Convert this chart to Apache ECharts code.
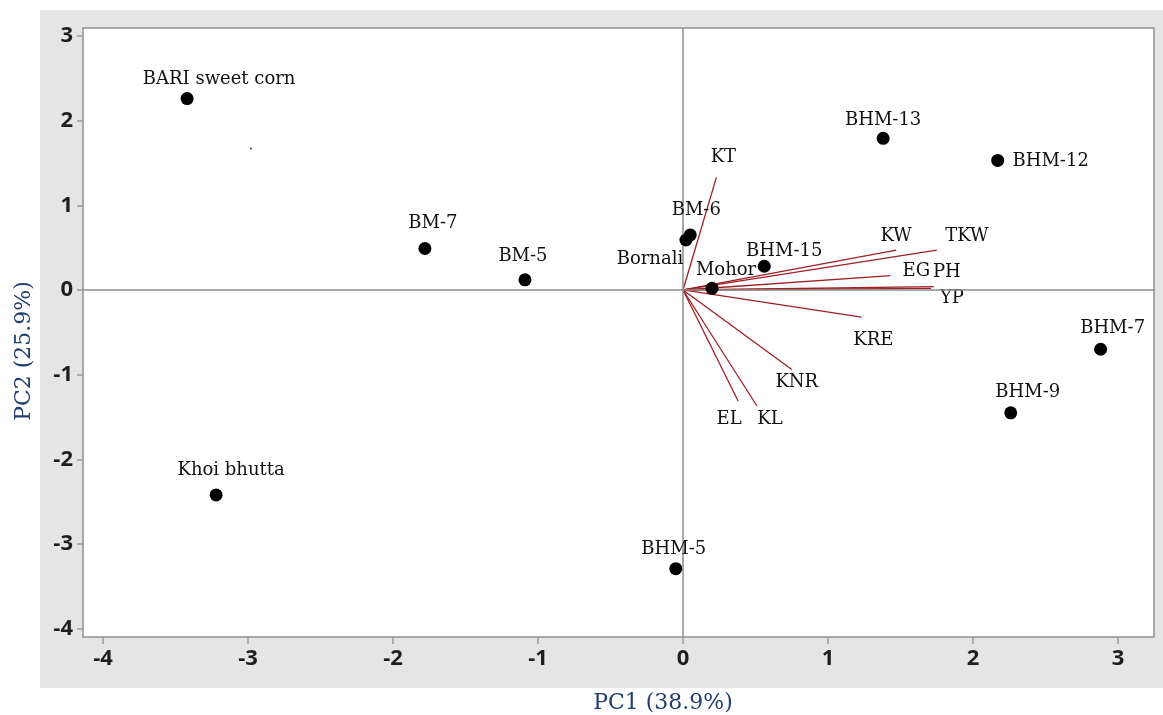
<!DOCTYPE html>
<html>
<head>
<meta charset="utf-8">
<script src="https://cdn.jsdelivr.net/npm/echarts@6/dist/echarts.min.js"></script>
<style>
html,body{margin:0;padding:0;background:#ffffff;}
#chart{width:1163px;height:715px;}
</style>
</head>
<body>
<div id="chart"></div>
<script>
// ---- data ----
const genotypes = ['BARI sweet corn','BM-7','BM-5','BM-6','Bornali','Mohor','BHM-15','BHM-13','BHM-12','BHM-7','BHM-9','BHM-5','Khoi bhutta'];
const genoPC1 = [-3.42, -1.78, -1.09, 0.05, 0.02, 0.20, 0.56, 1.38, 2.17, 2.88, 2.26, -0.05, -3.22];
const genoPC2 = [2.26, 0.49, 0.12, 0.65, 0.59, 0.02, 0.28, 1.79, 1.53, -0.70, -1.45, -3.29, -2.42];

const traits = ['KT','KW','TKW','EG','PH','YP','KRE','KNR','KL','EL'];
const traitPC1 = [0.23, 1.47, 1.75, 1.43, 1.73, 1.71, 1.23, 0.75, 0.51, 0.38];
const traitPC2 = [1.33, 0.47, 0.47, 0.17, 0.04, 0.02, -0.32, -0.94, -1.37, -1.31];

const strayPC1 = [-2.98];
const strayPC2 = [1.67];

const xTicks = [-4, -3, -2, -1, 0, 1, 2, 3];
const yTicks = [-4, -3, -2, -1, 0, 1, 2, 3];

const xTitle = 'PC1 (38.9%)';
const yTitle = 'PC2 (25.9%)';

// ---- label placement (styling, px offsets from the mark) ----
const genoLabelOffset = {
  'BARI sweet corn':[32,-19], 'BM-7':[8,-25], 'BM-5':[-2,-23], 'BM-6':[6,-25],
  'Bornali':[-36,19], 'Mohor':[14,-18], 'BHM-15':[20,-15], 'BHM-13':[0,-18],
  'BHM-12':[53,1], 'BHM-7':[12,-21], 'BHM-9':[17,-20], 'BHM-5':[-2,-19],
  'Khoi bhutta':[15,-25]
};
const traitLabelOffset = {
  'KT':[7,-20], 'KW':[0,-14], 'TKW':[30,-14], 'EG':[26,-4], 'PH':[13,-14],
  'YP':[21,10], 'KRE':[12,23], 'KNR':[5,13], 'KL':[13,13], 'EL':[-9,18]
};

const serif = '"DejaVu Serif", serif';
const sans = '"Open Sans", "Noto Sans", sans-serif';

const chart = echarts.init(document.getElementById('chart'), null, {renderer:'canvas'});

const labelStyle = {
  show: true, position: 'inside', align: 'center', verticalAlign: 'middle',
  fontFamily: serif, fontSize: 18, color: '#111111', opacity: 1
};

const option = {
  backgroundColor: '#ffffff',
  animation: false,
  graphic: [
    {type:'rect', left:40, top:10, z:-100, shape:{width:1123, height:678}, style:{fill:'#e5e5e5'}, silent:true},
    {type:'text', x:663, y:703, z:10, style:{text:xTitle, font:'22px "DejaVu Serif", serif', fill:'#22406e', textAlign:'center', textVerticalAlign:'middle'}},
    {type:'text', x:24, y:351, rotation:Math.PI/2, z:10, style:{text:yTitle, font:'22px "DejaVu Serif", serif', fill:'#22406e', textAlign:'center', textVerticalAlign:'middle'}}
  ],
  grid: {
    left: 83, top: 28, right: 9, bottom: 78,
    show: true, backgroundColor: '#ffffff', borderColor: '#909090', borderWidth: 1.5
  },
  xAxis: {
    type: 'value', min: -4.138, max: 3.248,
    splitLine: {show:false},
    axisLine: {show:false, onZero:false},
    axisTick: {show:true, customValues: xTicks, length: 7, lineStyle:{color:'#9a9a9a', width:1.5}},
    axisLabel: {customValues: xTicks, fontFamily: sans, fontWeight: 'bold', fontSize: 22, color: '#1e1e1e', margin: 11}
  },
  yAxis: {
    type: 'value', min: -4.097, max: 3.093,
    splitLine: {show:false},
    axisLine: {show:false, onZero:false},
    axisTick: {show:true, customValues: yTicks, length: 6, lineStyle:{color:'#9a9a9a', width:1.5}},
    axisLabel: {customValues: yTicks, fontFamily: sans, fontWeight: 'bold', fontSize: 22, color: '#1e1e1e', margin: 10}
  },
  series: [
    {
      type: 'scatter', name: 'stray', z: 1,
      data: strayPC1.map((v,i)=>[v, strayPC2[i]]),
      symbolSize: 2, itemStyle: {color:'#444444', opacity:1}, silent: true,
      markLine: {
        silent: true, symbol: ['none','none'], label: {show:false},
        lineStyle: {color:'#8c8c8c', width:1.5, type:'solid', opacity:1},
        data: [{xAxis:0}, {yAxis:0}]
      }
    },
    {
      type: 'lines', name: 'loadings', coordinateSystem: 'cartesian2d', z: 3,
      polyline: false, silent: true,
      lineStyle: {color:'#9e1f24', width:1.3, opacity:1, curveness:0},
      data: traits.map((t,i)=>({name:t, coords:[[0,0],[traitPC1[i], traitPC2[i]]]}))
    },
    {
      type: 'scatter', name: 'traitLabels', z: 4, silent: true,
      symbolSize: 1, itemStyle: {color:'rgba(0,0,0,0)', opacity:1},
      data: traits.map((t,i)=>({
        name: t, value: [traitPC1[i], traitPC2[i]],
        label: Object.assign({}, labelStyle, {formatter: t, offset: traitLabelOffset[t]})
      }))
    },
    {
      type: 'scatter', name: 'genotypes', z: 5, silent: true,
      symbol: 'circle', symbolSize: 13, itemStyle: {color:'#000000', opacity:1},
      data: genotypes.map((g,i)=>({
        name: g, value: [genoPC1[i], genoPC2[i]],
        label: Object.assign({}, labelStyle, {formatter: g, offset: genoLabelOffset[g]})
      }))
    }
  ]
};
chart.setOption(option);
</script>
</body>
</html>
